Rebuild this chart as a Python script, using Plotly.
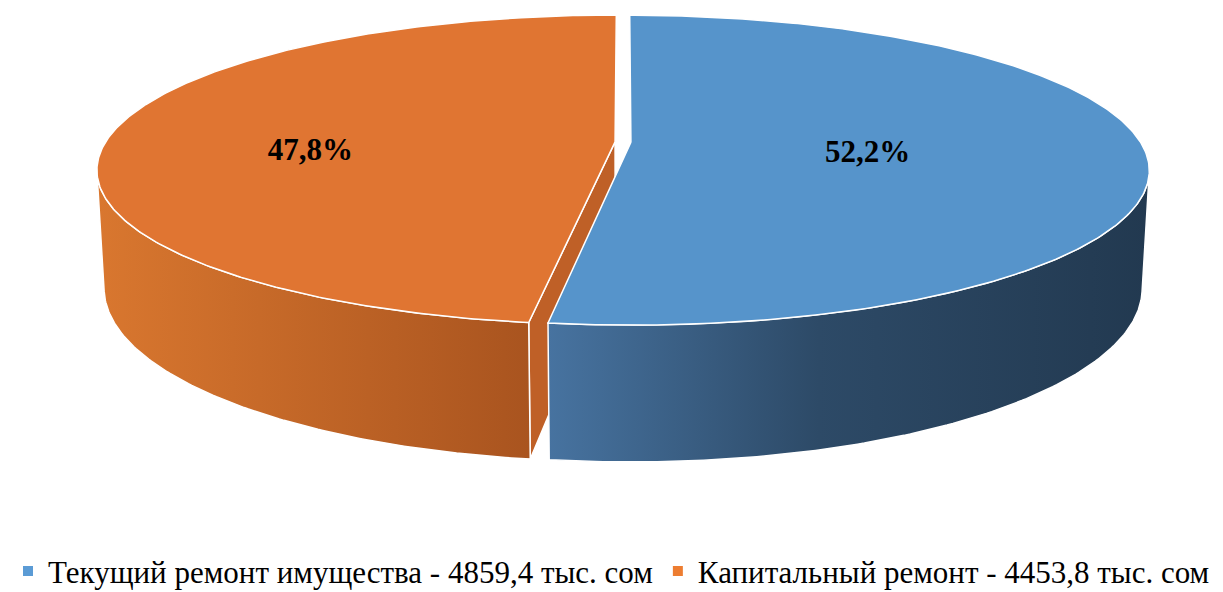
import numpy as np
import plotly.graph_objects as go

# ---------------- data ----------------
categories = ["Текущий ремонт имущества", "Капитальный ремонт"]
values = [4859.4, 4453.8]
units = "тыс. сом"

# ---------------- styles ----------------
top_colors = ["#5694CB", "#E07532"]
legend_colors = ["#5B9BD5", "#ED7D31"]
side_scales = [
    [[0, "#4773A0"], [0.45, "#2D4A67"], [1, "#223950"]],
    [[0, "#D9772F"], [1, "#A9541F"]],
]
face_colors = ["#3A6590", "#BF6027"]
label_radius = [0.463, 0.604]
label_dy = [7, 17]
SERIF = "Liberation Serif, Times New Roman, serif"

W, H = 1223, 592
PHI = np.radians(17.1)   # camera pitch
DIST = 5.29              # camera distance (pie radius = 1)
FOC = 2695               # focal length in px
X0, Y0 = 623, 142        # screen position of pie centre
DEPTH = 0.239            # pie thickness
EXPLODE = 0.0156         # slice explosion
sP, cP = np.sin(PHI), np.cos(PHI)
CAM = np.array([0.0, DIST * sP, -DIST * cP])


def proj(X, Y, Z):
    X = np.asarray(X, float); Y = np.asarray(Y, float); Z = np.asarray(Z, float)
    vy = Y - DIST * sP
    vz = Z + DIST * cP
    yc = vy * cP + vz * sP
    zc = -vy * sP + vz * cP
    return X0 + FOC * X / zc, Y0 - FOC * yc / zc


total = sum(values)
fracs = [v / total for v in values]
bounds = np.concatenate([[0.0], np.cumsum(fracs)]) * 2 * np.pi
sil = np.arccos(-1.0 / (DIST * cP))  # silhouette angle of the side wall

fig = go.Figure()
faces, sides, tops, labels = [], [], [], []

for i, (a0, a1) in enumerate(zip(bounds[:-1], bounds[1:])):
    bis = (a0 + a1) / 2
    dX, dZ = EXPLODE * np.sin(bis), EXPLODE * np.cos(bis)

    # radial faces
    for a, sign in ((a0, -1), (a1, 1)):
        n = sign * np.array([np.cos(a), 0, -np.sin(a)])
        P = np.array([0.5 * np.sin(a) + dX, -DEPTH / 2, 0.5 * np.cos(a) + dZ])
        if np.dot(n, CAM - P) > 0.05:
            Xs = [dX, np.sin(a) + dX, np.sin(a) + dX, dX, dX]
            Zs = [dZ, np.cos(a) + dZ, np.cos(a) + dZ, dZ, dZ]
            Ys = [0, 0, -DEPTH, -DEPTH, 0]
            x, y = proj(Xs, Ys, Zs)
            faces.append(go.Scatter(x=x, y=y, mode="lines", fill="toself",
                                    fillcolor=face_colors[i],
                                    line=dict(color="white", width=1.5),
                                    hoverinfo="skip", showlegend=False))

    # side wall
    s0, s1 = max(a0, sil), min(a1, 2 * np.pi - sil)
    if s1 > s0:
        t = np.linspace(s0, s1, 120)
        xt, yt = proj(np.sin(t) + dX, np.zeros_like(t), np.cos(t) + dZ)
        xb, yb = proj(np.sin(t) + dX, np.full_like(t, -DEPTH), np.cos(t) + dZ)
        x = np.concatenate([xt, xb[::-1], xt[:1]])
        y = np.concatenate([yt, yb[::-1], yt[:1]])
        sides.append(go.Scatter(x=x, y=y, mode="lines", fill="toself",
                                fillgradient=dict(type="horizontal",
                                                  colorscale=side_scales[i]),
                                line=dict(color="white", width=1.5),
                                hoverinfo="skip", showlegend=False))

    # top face
    t = np.linspace(a0, a1, 300)
    Xs = np.concatenate([[dX], np.sin(t) + dX, [dX]])
    Zs = np.concatenate([[dZ], np.cos(t) + dZ, [dZ]])
    x, y = proj(Xs, np.zeros_like(Xs), Zs)
    tops.append(go.Scatter(x=x, y=y, mode="lines", fill="toself",
                           fillcolor=top_colors[i],
                           line=dict(color="white", width=1.5),
                           hoverinfo="skip", showlegend=False))

    # percentage label
    r = label_radius[i]
    lx, ly = proj([r * np.sin(bis) + dX], [0], [r * np.cos(bis) + dZ])
    labels.append((lx[0], ly[0] + label_dy[i],
                   f"{fracs[i] * 100:.1f}".replace(".", ",") + "%"))

for tr in faces + sides + tops[::-1]:
    fig.add_trace(tr)

fig.add_trace(go.Scatter(
    x=[l[0] for l in labels], y=[l[1] for l in labels],
    text=[l[2] for l in labels], mode="text",
    textfont=dict(family=SERIF, size=31, color="black", weight="bold"),
    hoverinfo="skip", showlegend=False))

for cat, val, col in zip(categories, values, legend_colors):
    fig.add_trace(go.Scatter(
        x=[None], y=[None], mode="markers",
        marker=dict(symbol="square", size=10, color=col),
        name=f"{cat} - {str(val).replace('.', ',')} {units}"))

fig.update_layout(
    width=W, height=H,
    margin=dict(l=0, r=0, t=0, b=0, autoexpand=False),
    paper_bgcolor="white", plot_bgcolor="white",
    xaxis=dict(range=[0, W], visible=False, fixedrange=True),
    yaxis=dict(range=[H, 0], visible=False, fixedrange=True),
    legend=dict(orientation="h", x=0.5, xanchor="center", y=0.035, yanchor="middle",
                font=dict(family=SERIF, size=31, color="black"),
                itemwidth=30, tracegroupgap=0),
    showlegend=True,
)

fig.write_html("out.html", config={"displayModeBar": False, "staticPlot": True},
               post_script="document.body.style.margin='0';document.body.style.overflow='hidden';")
